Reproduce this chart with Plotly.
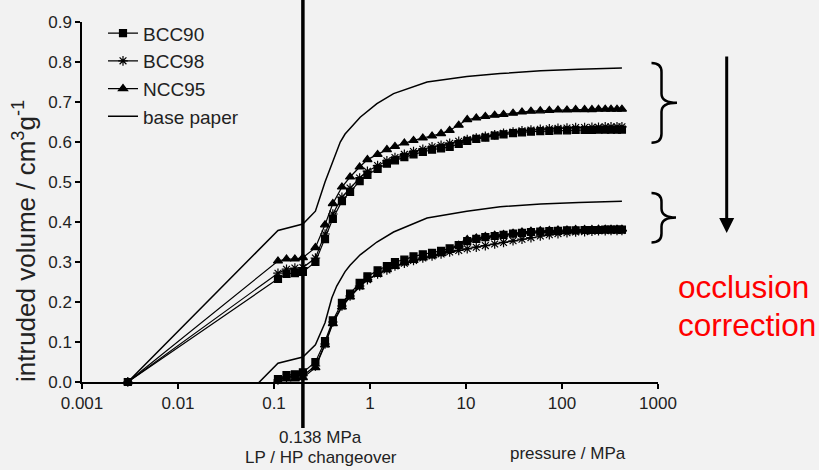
import plotly.graph_objects as go

# ---------------- data ----------------
pressure = [0.003, 0.11, 0.135, 0.165, 0.2,
            0.27, 0.34, 0.41, 0.51, 0.62, 0.78, 0.94,
            1.2, 1.5, 1.82, 2.28, 2.84, 3.55, 4.43, 5.5, 6.76, 8.4,
            10.3, 12.8, 15.9, 19.9, 24.6, 30.9, 38.3, 47.5, 59.4, 73.8, 90.8,
            112.7, 138.7, 171.9, 205, 240, 282, 324, 374, 421]

bcc90_upper = [0.0, 0.258, 0.270, 0.272, 0.275,
               0.300, 0.357, 0.408, 0.452, 0.475, 0.502, 0.518,
               0.533, 0.546, 0.554, 0.562, 0.569, 0.575, 0.581, 0.584, 0.588, 0.595,
               0.603, 0.608, 0.611, 0.616, 0.619, 0.622, 0.624, 0.626, 0.627, 0.628, 0.629,
               0.629, 0.630, 0.630, 0.630, 0.631, 0.631, 0.631, 0.631, 0.631]
bcc98_upper = [0.0, 0.272, 0.282, 0.285, 0.286,
               0.310, 0.370, 0.420, 0.462, 0.485, 0.510, 0.527,
               0.541, 0.553, 0.561, 0.569, 0.576, 0.582, 0.588, 0.592, 0.597, 0.602,
               0.606, 0.610, 0.614, 0.618, 0.622, 0.625, 0.628, 0.630, 0.632, 0.633, 0.634,
               0.635, 0.636, 0.636, 0.637, 0.637, 0.638, 0.638, 0.638, 0.638]
ncc95_upper = [0.0, 0.3025, 0.3075, 0.3075, 0.311,
               0.336, 0.393, 0.446, 0.4875, 0.5125, 0.5375, 0.556,
               0.569, 0.581, 0.589, 0.5975, 0.604, 0.610, 0.615, 0.621, 0.629, 0.642,
               0.656, 0.660, 0.664, 0.667, 0.669, 0.672, 0.675, 0.677, 0.678, 0.679, 0.680,
               0.680, 0.681, 0.681, 0.681, 0.682, 0.682, 0.682, 0.682, 0.682]

bcc90_lower = [-0.252, 0.007, 0.017, 0.019, 0.024,
               0.050, 0.102, 0.154, 0.198, 0.221, 0.248, 0.264,
               0.279, 0.290, 0.300, 0.306, 0.314, 0.319, 0.323, 0.328, 0.334, 0.342,
               0.352, 0.358, 0.362, 0.365, 0.368, 0.371, 0.373, 0.375, 0.376, 0.377, 0.378,
               0.379, 0.379, 0.380, 0.380, 0.380, 0.381, 0.381, 0.381, 0.381]
bcc98_lower = [-0.260, 0.005, 0.012, 0.015, 0.016,
               0.040, 0.095, 0.150, 0.190, 0.215, 0.240, 0.256,
               0.270, 0.280, 0.290, 0.297, 0.304, 0.310, 0.315, 0.320, 0.325, 0.329,
               0.333, 0.337, 0.341, 0.345, 0.349, 0.353, 0.357, 0.361, 0.365, 0.368, 0.371,
               0.373, 0.375, 0.376, 0.377, 0.378, 0.378, 0.379, 0.379, 0.379]
ncc95_lower = [-0.300, 0.0025, 0.0075, 0.0075, 0.011,
               0.036, 0.093, 0.146, 0.1875, 0.2125, 0.2375, 0.256,
               0.269, 0.281, 0.289, 0.2975, 0.304, 0.310, 0.315, 0.321, 0.329, 0.342,
               0.356, 0.360, 0.364, 0.367, 0.369, 0.372, 0.375, 0.377, 0.378, 0.379, 0.380,
               0.380, 0.381, 0.381, 0.381, 0.382, 0.382, 0.382, 0.382, 0.382]

base_pressure = [0.003, 0.11, 0.2, 0.27, 0.34, 0.40, 0.45, 0.49, 0.55, 0.62, 0.79, 1.18, 1.76,
                 3.93, 10.2, 22.7, 60, 150, 421]
base_upper = [0.0, 0.379, 0.395, 0.427, 0.500, 0.546, 0.580, 0.600, 0.620, 0.634, 0.662,
              0.696, 0.721, 0.750, 0.764, 0.771, 0.778, 0.782, 0.785]
base_lower = [-0.333, 0.047, 0.0625, 0.093, 0.148, 0.210, 0.240, 0.256, 0.276, 0.292, 0.318,
              0.350, 0.375, 0.410, 0.427, 0.438, 0.445, 0.449, 0.452]

changeover_pressure = 0.2
x_tick_vals = [0.001, 0.01, 0.1, 1, 10, 100, 1000]
x_tick_text = ["0.001", "0.01", "0.1", "1", "10", "100", "1000"]
y_tick_vals = [0.0, 0.1, 0.2, 0.3, 0.4, 0.5, 0.6, 0.7, 0.8, 0.9]

# ---------------- layout geometry ----------------
W, H = 819, 470
PL, PT, PW, PH = 82, 22, 576, 360
FONT = "Liberation Sans, Arial, sans-serif"


def px(x):
    return (x - PL) / PW


def py(y):
    return (PT + PH - y) / PH


def brace(x0, ytop, ymid, ybot, xv, xtip, r=9):
    pts = [("M", (x0, ytop)), ("Q", (xv, ytop), (xv, ytop + r)), ("L", (xv, ymid - r)),
           ("Q", (xv, ymid), (xtip, ymid)), ("Q", (xv, ymid), (xv, ymid + r)),
           ("L", (xv, ybot - r)), ("Q", (xv, ybot), (x0, ybot))]
    out = []
    for item in pts:
        cmd = item[0]
        coords = " ".join(f"{px(a):.5f},{py(b):.5f}" for a, b in item[1:])
        out.append(f"{cmd} {coords}")
    return " ".join(out)


fig = go.Figure()

series = [
    ("BCC90", bcc90_upper, bcc90_lower, "square", 7),
    ("BCC98", bcc98_upper, bcc98_lower, "asterisk-open", 8),
    ("NCC95", ncc95_upper, ncc95_lower, "triangle-up", 8),
]
for name, up, low, sym, size in series:
    for vals, show in ((up, True), (low, False)):
        fig.add_trace(go.Scatter(
            x=pressure, y=vals, mode="lines+markers", name=name,
            showlegend=show, legendgroup=name, cliponaxis=False,
            line=dict(color="black", width=1.2),
            marker=dict(symbol=sym, size=size, color="black",
                        line=dict(color="black", width=1.2)),
        ))

for vals, show in ((base_upper, True), (base_lower, False)):
    fig.add_trace(go.Scatter(
        x=base_pressure, y=vals, mode="lines", name="base paper",
        showlegend=show, legendgroup="base",
        line=dict(color="black", width=1.5),
    ))

shapes = [
    dict(type="line", xref="x", yref="paper", x0=changeover_pressure, x1=changeover_pressure,
         y0=py(428), y1=py(0), line=dict(color="black", width=3.5)),
    dict(type="path", xref="paper", yref="paper",
         path=brace(651.5, 63, 102.7, 142.7, 661.5, 677),
         line=dict(color="black", width=2.5)),
    dict(type="path", xref="paper", yref="paper",
         path=brace(651.5, 193, 217.5, 242.5, 661.5, 676),
         line=dict(color="black", width=2.5)),
]

annotations = [
    dict(xref="paper", yref="paper", x=px(726.7), y=py(233), ax=0, ay=55 - 233,
         axref="pixel", ayref="pixel", text="", showarrow=True,
         arrowhead=2, arrowsize=1, arrowwidth=3, arrowcolor="black"),
    dict(xref="paper", yref="paper", x=px(676), y=py(286.7), text="occlusion",
         showarrow=False, xanchor="left", yanchor="middle",
         font=dict(family=FONT, size=31.5, color="#ff0000")),
    dict(xref="paper", yref="paper", x=px(676), y=py(325), text="correction",
         showarrow=False, xanchor="left", yanchor="middle",
         font=dict(family=FONT, size=31.5, color="#ff0000")),
    dict(xref="paper", yref="paper", x=px(320.5), y=py(438), text="0.138 MPa",
         showarrow=False, xanchor="center", yanchor="middle",
         font=dict(family=FONT, size=17, color="#222")),
    dict(xref="paper", yref="paper", x=px(320.5), y=py(458), text="LP / HP changeover",
         showarrow=False, xanchor="center", yanchor="middle",
         font=dict(family=FONT, size=17, color="#222")),
    dict(xref="paper", yref="paper", x=px(568), y=py(453), text="pressure / MPa",
         showarrow=False, xanchor="center", yanchor="middle",
         font=dict(family=FONT, size=17, color="#222")),
    dict(xref="paper", yref="paper", x=px(24), y=py(241),
         text="intruded volume / cm<sup>3</sup>g<sup>-1</sup>", textangle=-90,
         showarrow=False, xanchor="center", yanchor="middle",
         font=dict(family=FONT, size=26, color="#222")),
]

fig.update_layout(
    width=W, height=H,
    margin=dict(l=PL, r=W - PL - PW, t=PT, b=H - PT - PH),
    paper_bgcolor="#f2f2f2", plot_bgcolor="#f2f2f2",
    font=dict(family=FONT, size=17, color="#222"),
    showlegend=True,
    legend=dict(x=px(103), y=py(14.3), xanchor="left", yanchor="top",
                bgcolor="rgba(0,0,0,0)", font=dict(family=FONT, size=19, color="#222"),
                itemwidth=30, tracegroupgap=0),
    shapes=shapes, annotations=annotations,
)
fig.update_xaxes(type="log", range=[-3, 3], tickvals=x_tick_vals, ticktext=x_tick_text,
                 showgrid=False, zeroline=False, showline=True, linecolor="black",
                 linewidth=1.5, ticks="outside", ticklen=5, tickwidth=1.5, tickcolor="black",
                 tickfont=dict(family=FONT, size=17, color="#222"))
fig.update_yaxes(range=[0, 0.9], tickvals=y_tick_vals, tickformat=".1f",
                 showgrid=False, zeroline=False, showline=True, linecolor="black",
                 linewidth=1.5, ticks="outside", ticklen=5, tickwidth=1.5, tickcolor="black",
                 tickfont=dict(family=FONT, size=17, color="#222"))

fig.write_html("out.html", config={"displayModeBar": False},
               post_script="document.body.style.margin='0';document.body.style.background='#f2f2f2';")
